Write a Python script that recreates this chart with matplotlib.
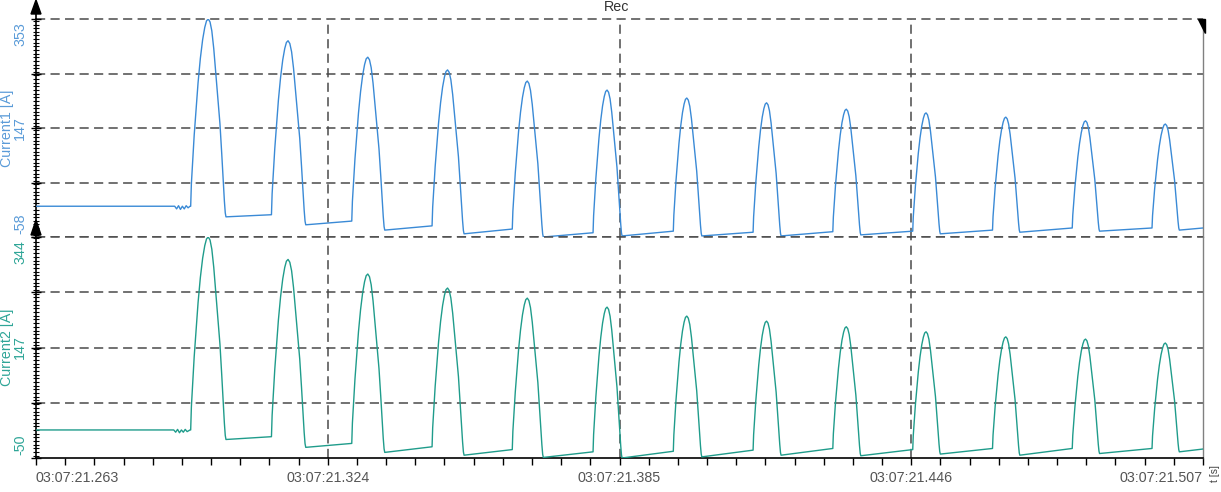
import matplotlib
matplotlib.use("Agg")
import matplotlib.pyplot as plt
from matplotlib.patches import Polygon
from matplotlib.lines import Line2D
from matplotlib.ticker import MultipleLocator
import matplotlib.transforms as mtransforms

plt.rcParams['font.family'] = ['Liberation Sans', 'DejaVu Sans']

# time axis in ms after 03:07:21.263
x_ticks = [0, 61, 122, 183, 244]
x_labels = ["03:07:21.263", "03:07:21.324", "03:07:21.385", "03:07:21.446", "03:07:21.507"]

# pulse timing (ms)
peak_ms = [36.02, 52.70, 69.37, 86.05, 102.72, 119.40, 136.07, 152.75, 169.42, 186.09, 202.77, 219.44, 236.12]
rise_ms = [3.68, 3.47, 3.35, 3.24, 3.14, 2.93, 2.82, 2.82, 2.82, 2.78, 2.78, 2.78, 2.78]
fall_ms = [3.70, 3.70, 3.55, 3.45, 3.35, 3.14, 3.14, 3.03, 3.03, 2.99, 2.93, 2.93, 2.93]

# Current1 [A]
cur1_pre_ms = [0, 29.0, 29.4, 29.8, 30.2, 30.6, 31.0, 31.4, 31.8, 32.2]
cur1_pre = [0, 0, -5, 1, -6, 0, -5, 1, -3, 0]
cur1_peak = [353, 312, 281, 257, 236, 219, 204, 195, 183, 176, 168, 161, 155]
cur1_trough_start = [-20, -35, -45, -52, -58, -56, -56, -56, -54, -52, -49, -47, -45]
cur1_trough_end = [-16, -28, -37, -43, -50, -47, -49, -48, -47, -45, -41, -41, -41]
cur1_levels = [-58, 44.75, 147.5, 250.25, 353]
cur1_labels = {353: "353", 147.5: "147", -58: "-58"}

# Current2 [A]
cur2_pre_ms = [0, 28.8, 29.2, 29.6, 30.0, 30.4, 30.8, 31.2, 31.6, 32.2]
cur2_pre = [0, 0, -4, 1, -5, 0, -4, 1, -3, 0]
cur2_peak = [344, 304, 278, 253, 235, 219, 203, 194, 184, 175, 166, 162, 155]
cur2_trough_start = [-17, -31, -40, -45, -49, -50, -48, -45, -46, -43, -45, -42, -39]
cur2_trough_end = [-12, -24, -30, -35, -39, -38, -36, -33, -35, -33, -33, -33, -34]
cur2_levels = [-50, 48.5, 147, 245.5, 344]
cur2_labels = {344: "344", 147: "147", -50: "-50"}

# outline of one pulse as seen on screen (fraction of edge time, fraction of height)
rise_shape = [(0, 0), (0.04, 0.12), (0.10, 0.22), (0.20, 0.38), (0.30, 0.51), (0.42, 0.66),
              (0.55, 0.79), (0.68, 0.89), (0.80, 0.955), (0.90, 0.99), (1.0, 1.0)]
fall_shape = [(0.10, 0.985), (0.20, 0.94), (0.31, 0.85), (0.42, 0.73), (0.54, 0.60),
              (0.66, 0.47), (0.76, 0.32), (0.84, 0.19), (0.91, 0.08), (0.96, 0.02), (1.0, 0.0)]

W, H = 1221, 492
END_MS = 244
C1 = "#3a8ad6"
C2 = "#1f9c8b"
GRID = "#4a4a4a"
FS = 10.3


def trace(pre_t, pre_v, peaks, tr_start, tr_end):
    t, v = list(pre_t), list(pre_v)
    base = pre_v[-1]
    for i, pk in enumerate(peaks):
        t0 = peak_ms[i] - rise_ms[i]
        for f, lv in rise_shape:
            t.append(t0 + f * rise_ms[i])
            v.append(base + lv * (pk - base))
        for f, lv in fall_shape:
            t.append(peak_ms[i] + f * fall_ms[i])
            v.append(tr_start[i] + lv * (pk - tr_start[i]))
        base = tr_end[i]
    t.append(END_MS)
    v.append(tr_end[-1])
    return t, v


def box(x0, y0, x1, y1):
    return [x0 / W, 1 - y1 / H, (x1 - x0) / W, (y1 - y0) / H]


fig = plt.figure(figsize=(W / 100, H / 100), dpi=100)
ax1 = fig.add_axes(box(36, 19, 1203, 237))
ax2 = fig.add_axes(box(36, 237, 1203, 458), sharex=ax1)

panels = [
    (ax1, cur1_pre_ms, cur1_pre, cur1_peak, cur1_trough_start, cur1_trough_end, cur1_levels, cur1_labels, C1, "#5a9bd8", "Current1 [A]"),
    (ax2, cur2_pre_ms, cur2_pre, cur2_peak, cur2_trough_start, cur2_trough_end, cur2_levels, cur2_labels, C2, "#2ea597", "Current2 [A]"),
]

for ax, pt, pv, pk, ts, te, levels, labels, col, lcol, name in panels:
    t, v = trace(pt, pv, pk, ts, te)
    ax.plot(t, v, color=col, lw=1.0, zorder=3)
    ax.set_xlim(0, END_MS)
    ax.set_ylim(levels[0], levels[-1])

    for s in ("top", "bottom"):
        ax.spines[s].set_visible(False)
    ax.spines["left"].set_color("black")
    ax.spines["left"].set_linewidth(1.2)
    ax.spines["right"].set_color("#808080")
    ax.spines["right"].set_linewidth(1.0)

    for lv in levels:
        if ax is ax2 and lv == levels[0]:
            continue
        ln = ax.axhline(lv, color=GRID, lw=1.1, clip_on=False, zorder=1)
        ln.set_dashes((6, 3.5))
    for xv in x_ticks[1:-1]:
        ln = ax.axvline(xv, color=GRID, lw=1.1, zorder=1)
        ln.set_dashes((6, 3.5))

    step = levels[1] - levels[0]
    ax.set_yticks(levels)
    ax.set_yticklabels([])
    ax.yaxis.set_minor_locator(MultipleLocator(step / 15))
    ax.tick_params(axis="y", which="major", direction="inout", length=7, width=1, color="black")
    ax.tick_params(axis="y", which="minor", direction="inout", length=4, width=0.8, color="black")

    trans = mtransforms.blended_transform_factory(ax.transAxes, ax.transData)
    for val, txt in labels.items():
        va = "top" if val == levels[-1] else ("bottom" if val == levels[0] else "center")
        off = -3 if va == "top" else (3 if va == "bottom" else 0)
        ax.text(-0.0137, val + off * step / 55, txt, rotation=90, ha="center", va=va,
                color=lcol, fontsize=FS, transform=trans)
    ax.text(-0.0252, levels[2], name, rotation=90, ha="center", va="center",
            color=lcol, fontsize=FS, transform=trans)

ax1.tick_params(axis="x", which="both", bottom=False, labelbottom=False)
ax2.spines["bottom"].set_visible(True)
ax2.spines["bottom"].set_color("black")
ax2.spines["bottom"].set_linewidth(1.2)
ax2.set_xticks(x_ticks)
ax2.set_xticklabels(x_labels)
ax2.xaxis.set_minor_locator(MultipleLocator(6.1))
ax2.tick_params(axis="x", which="both", direction="out", length=5, width=1, color="black",
                labelsize=FS, labelcolor="#555555", pad=4)
lbls = ax2.get_xticklabels()
lbls[0].set_ha("left")
lbls[-1].set_ha("right")

# axis decorations
fig.add_artist(Line2D([36 / W, 36 / W], [1 - 2 / H, 1 - 19 / H], color="black", lw=1.2,
                      transform=fig.transFigure))
for tip, base in [(0, 14), (220, 235)]:
    fig.add_artist(Polygon([(36 / W, 1 - tip / H), (31 / W, 1 - base / H), (41 / W, 1 - base / H)],
                           closed=True, color="black", transform=fig.transFigure))
fig.add_artist(Polygon([(1198 / W, 1 - 19 / H), (1205 / W, 1 - 19 / H), (1205 / W, 1 - 33 / H)],
                       closed=True, color="black", transform=fig.transFigure))

fig.text(617 / W, 1 - 7 / H, "Rec", ha="center", va="center", fontsize=FS, color="#333333")
fig.text(1215 / W, 1 - 473 / H, "t [s]", rotation=90, ha="center", va="center",
         fontsize=7.5, color="#444444")

fig.savefig("out.png", dpi=100)
